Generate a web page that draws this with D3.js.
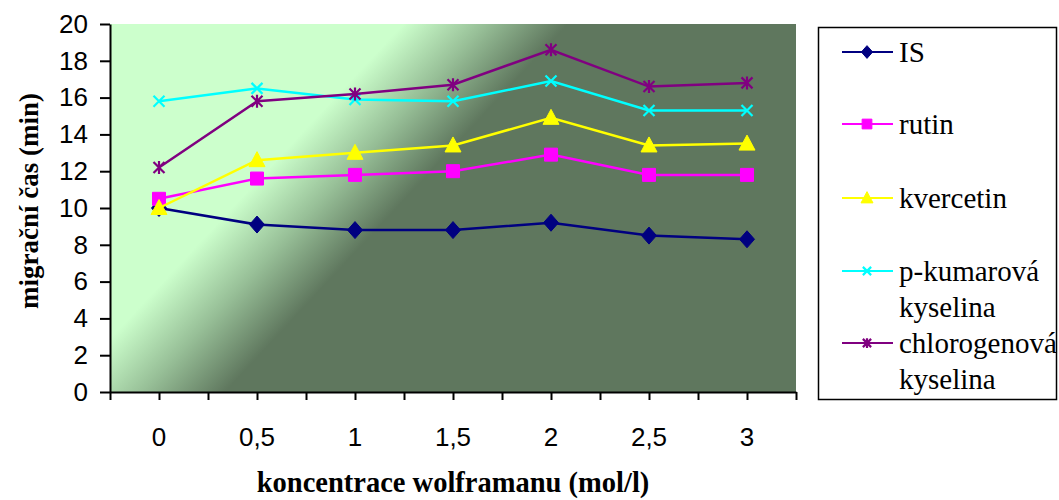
<!DOCTYPE html>
<html>
<head>
<meta charset="utf-8">
<script src="https://cdn.jsdelivr.net/npm/d3@7"></script>
<style>
  html, body { margin: 0; padding: 0; background: #ffffff; }
  svg { display: block; }
</style>
</head>
<body>
<svg id="chart" width="1059" height="500"></svg>
<script>
// ---- data ----
const categories = ["0", "0,5", "1", "1,5", "2", "2,5", "3"];
const seriesNames = ["IS", "rutin", "kvercetin", "p-kumarová kyselina", "chlorogenová kyselina"];
const IS          = [10.0, 9.1, 8.8, 8.8, 9.2, 8.5, 8.3];
const rutin       = [10.5, 11.6, 11.8, 12.0, 12.9, 11.8, 11.8];
const kvercetin   = [10.0, 12.6, 13.0, 13.4, 14.9, 13.4, 13.5];
const pKumarova   = [15.8, 16.5, 15.9, 15.8, 16.9, 15.3, 15.3];
const chlorogenova= [12.2, 15.8, 16.2, 16.7, 18.6, 16.6, 16.8];
const yTicks = [0, 2, 4, 6, 8, 10, 12, 14, 16, 18, 20];
const xTitle = "koncentrace wolframanu (mol/l)";
const yTitle = "migrační čas (min)";

const seriesValues = [IS, rutin, kvercetin, pKumarova, chlorogenova];
const colors = ["#000080", "#ff00ff", "#ffff00", "#00ffff", "#800080"];
const markerTypes = ["diamond", "square", "triangle", "x", "star"];

const SERIF = "Liberation Serif";
const SANS = "Liberation Sans";

// ---- layout ----
const svg = d3.select("#chart");
const L = 110, R = 796, T = 24, B = 392;

const x = d3.scaleLinear().domain([-0.5, categories.length - 0.5]).range([L, R]);
const xBand = d3.scaleBand().domain(categories).range([L, R]).paddingInner(0).paddingOuter(0);
const y = d3.scaleLinear().domain([0, 20]).range([B, T]);

// gradient background
const defs = svg.append("defs");
const grad = defs.append("linearGradient")
  .attr("id", "bg").attr("gradientUnits", "userSpaceOnUse")
  .attr("x1", 272).attr("y1", 165).attr("x2", 360).attr("y2", 247);
grad.append("stop").attr("offset", 0).attr("stop-color", "#ccffcc");
grad.append("stop").attr("offset", 0.5).attr("stop-color", "#97bf97");
grad.append("stop").attr("offset", 1).attr("stop-color", "#5f775e");

svg.append("rect").attr("x", L).attr("y", T).attr("width", R - L).attr("height", B - T)
  .attr("fill", "url(#bg)");

// y axis
const yAxis = svg.append("g").attr("transform", `translate(${L},0)`)
  .call(d3.axisLeft(y).tickValues(yTicks).tickSize(10).tickPadding(12).tickSizeOuter(0));
yAxis.attr("font-family", SANS).attr("font-size", 26);
yAxis.select(".domain").attr("stroke", "#000").attr("stroke-width", 2);
yAxis.selectAll(".tick line").attr("stroke", "#000").attr("stroke-width", 2);
yAxis.selectAll("text").attr("fill", "#000");

// x axis tick marks (every half category)
const xTickVals = d3.range(0, categories.length * 2 + 1).map(i => -0.5 + i * 0.5);
const xAxis = svg.append("g").attr("transform", `translate(0,${B})`)
  .call(d3.axisBottom(x).tickValues(xTickVals).tickSize(8).tickFormat("").tickSizeOuter(0));
xAxis.select(".domain").attr("stroke", "#000").attr("stroke-width", 2);
xAxis.selectAll(".tick line").attr("stroke", "#000").attr("stroke-width", 2);

// x axis labels
const xLab = svg.append("g").attr("transform", `translate(0,${B})`)
  .call(d3.axisBottom(xBand).tickSize(0).tickPadding(36));
xLab.attr("font-family", SANS).attr("font-size", 26);
xLab.select(".domain").remove();
xLab.selectAll("text").attr("fill", "#000");

// titles
svg.append("text").attr("font-family", SERIF).attr("x", (L + R) / 2).attr("y", 492).attr("text-anchor", "middle")
  .attr("font-weight", "bold").attr("font-size", 28.5).text(xTitle);
svg.append("text").attr("font-family", SERIF).attr("transform", "translate(38,201) rotate(-90)").attr("text-anchor", "middle")
  .attr("font-weight", "bold").attr("font-size", 27).text(yTitle);

// marker shapes
function markerPath(type, s) {
  switch (type) {
    case "diamond": return `M0,${-8.5*s}L${7.5*s},0L0,${8.5*s}L${-7.5*s},0Z`;
    case "square": return `M${-6.5*s},${-6.5*s}H${6.5*s}V${6.5*s}H${-6.5*s}Z`;
    case "triangle": return `M0,${-8.5*s}L${8*s},${6.5*s}L${-8*s},${6.5*s}Z`;
    case "x": return `M${-5.5*s},${-5.5*s}L${5.5*s},${5.5*s}M${5.5*s},${-5.5*s}L${-5.5*s},${5.5*s}`;
    case "star": return `M${-5.5*s},${-5.5*s}L${5.5*s},${5.5*s}M${5.5*s},${-5.5*s}L${-5.5*s},${5.5*s}M0,${-6.5*s}V${6.5*s}`;
  }
}
function drawMarker(g, type, color, s) {
  const filled = (type === "diamond" || type === "square" || type === "triangle");
  g.append("path").attr("d", markerPath(type, s))
    .attr("fill", filled ? color : "none")
    .attr("stroke", color).attr("stroke-width", filled ? 1 : 2.2);
}

// series
const line = d3.line().x((d, i) => x(i)).y(d => y(d));
seriesValues.forEach((vals, si) => {
  const g = svg.append("g");
  g.append("path").datum(vals).attr("d", line).attr("fill", "none")
    .attr("stroke", colors[si]).attr("stroke-width", 2.5);
  vals.forEach((v, i) => {
    const mg = g.append("g").attr("transform", `translate(${x(i)},${y(v)})`);
    drawMarker(mg, markerTypes[si], colors[si], 1);
  });
});

// legend
svg.append("rect").attr("x", 818.5).attr("y", 27.5).attr("width", 238).attr("height", 372)
  .attr("fill", "#fff").attr("stroke", "#000").attr("stroke-width", 1.5);
const legendY = [52, 124, 198, 271, 343];
seriesNames.forEach((name, si) => {
  const g = svg.append("g").attr("transform", `translate(0,${legendY[si]})`);
  g.append("line").attr("x1", 842).attr("x2", 893).attr("y1", 0).attr("y2", 0)
    .attr("stroke", colors[si]).attr("stroke-width", 2);
  const mg = g.append("g").attr("transform", "translate(867,0)");
  drawMarker(mg, markerTypes[si], colors[si], 0.75);
  name.split(" ").forEach((w, wi) => {
    g.append("text").attr("font-family", SERIF).attr("font-size", 29).attr("fill", "#000")
      .attr("x", 899).attr("y", 10 + wi * 36).text(w);
  });
});
</script>
</body>
</html>
